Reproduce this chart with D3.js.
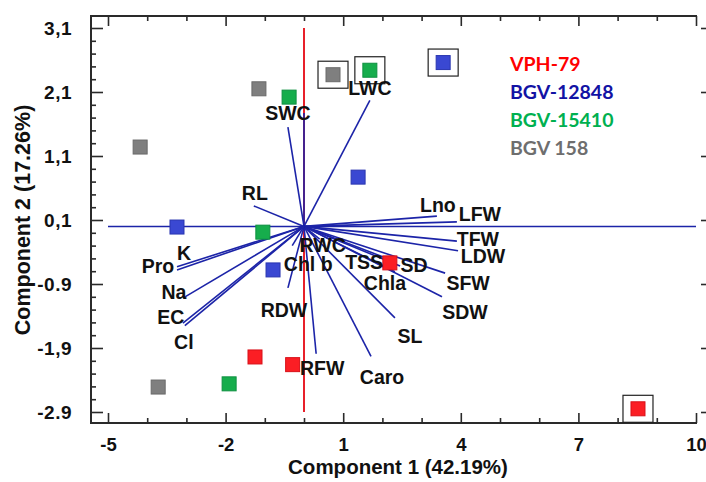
<!DOCTYPE html>
<html>
<head>
<meta charset="utf-8">
<script src="https://cdn.jsdelivr.net/npm/d3@7"></script>
<style>
  html, body { margin: 0; padding: 0; background: #fff; }
  svg { display: block; }
</style>
</head>
<body>
<svg id="chart" width="706" height="482"></svg>
<script>
// ---------- data ----------
const xMajorTicks = [-5, -2, 1, 4, 7, 10];
const xMinorTicks = [-4, -3, -1, 0, 2, 3, 5, 6, 8, 9];
const yMajorTicks = [3.1, 2.1, 1.1, 0.1, -0.9, -1.9, -2.9];
const yTickLabels = ["3,1", "2,1", "1,1", "0,1", "-0.9", "-1,9", "-2.9"];
const xAxisTitle = "Component 1 (42.19%)";
const yAxisTitle = "Component 2 (17.26%)";

const groups = ["VPH-79", "BGV-12848", "BGV-15410", "BGV 158"];
// observation scores [component1, component2]
const scoresVPH79    = [[-1.25, -2.04], [-0.29, -2.16], [8.52, -2.85], [2.19, -0.57]];
const scoresBGV12848 = [[3.55, 2.56], [1.38, 0.77], [-3.24, -0.01], [-0.79, -0.68]];
const scoresBGV15410 = [[1.68, 2.44], [-0.38, 2.02], [-1.05, -0.09], [-1.91, -2.46]];
const scoresBGV158   = [[0.74, 2.37], [-1.15, 2.15], [-4.18, 1.24], [-3.72, -2.51]];
// highlighted (boxed) observations
const boxedPoints = [[0.74, 2.37], [1.68, 2.44], [3.55, 2.56], [8.52, -2.85]];

// variable loading vectors (scaled)
const loadingNames = ["SWC", "", "LWC", "RL", "Lno", "LFW", "TFW", "LDW", "SFW", "SDW",
  "SD", "TSS", "Chla", "SL", "Caro", "RFW", "RDW", "Chl b", "RWC", "K", "Pro", "Na", "EC", "Cl"];
const loadingC1 = [-0.41, 0.00, 1.68, -1.28, 3.39, 3.90, 3.90, 3.93, 3.60, 3.52,
  2.45, 2.07, 2.32, 2.32, 1.71, 0.31, -0.41, -0.30, 0.40, -3.24, -3.24, -3.09, -3.09, -3.04];
const loadingC2 = [1.55, 1.77, 1.97, 0.32, 0.16, 0.07, -0.23, -0.38, -0.73, -1.10,
  -0.62, -0.49, -0.71, -1.43, -2.03, -1.99, -0.96, -0.30, -0.20, -0.68, -0.63, -1.12, -1.51, -1.55];

// ---------- layout / style ----------
const groupColors = ["#fb1e24", "#3a48d2", "#16ad4c", "#7f7f7f"];
const groupStroke = ["#d81018", "#2a36b0", "#0e9040", "#6a6a6a"];
const legendColors = ["#ff0000", "#1212a4", "#00b050", "#6e6e6e"];
const labelOffset = {
  "SWC": [0, -14], "LWC": [0, -12], "RL": [1, -13], "Lno": [1, -11], "LFW": [23, -7.5],
  "TFW": [21, -2], "LDW": [25, 5], "SFW": [23, 10], "SDW": [23, 15], "SD": [14, -1.5],
  "TSS": [-21, 4.5], "Chla": [-10, 11.5], "SL": [15, 18], "Caro": [11, 20.5], "RFW": [6, 14.5],
  "RDW": [-4, 22.5], "Chl b": [16, 18], "RWC": [3, 6], "K": [7, -16.5], "Pro": [-19, -1],
  "Na": [-9, -6.5], "EC": [-12, -6.5], "Cl": [-1, 16.5]
};

const svg = d3.select("#chart");
const frame = { left: 91, right: 697, top: 16, bottom: 423 };
const x = d3.scaleLinear().domain([-5, 10]).range([108, 696]);
const y = d3.scaleLinear().domain([-2.9, 3.1]).range([412, 28]);

const axisFont = "'Liberation Sans', Arial, sans-serif";
const axisColor = "#2a2a2a";

// ---------- axes ----------
function styleAxis(g, size) {
  g.select(".domain").remove();
  g.selectAll(".tick line").attr("stroke", axisColor).attr("stroke-width", 1.6);
  g.selectAll(".tick text").attr("fill", "#111").attr("font-family", axisFont)
    .attr("font-weight", "bold").attr("font-size", size || 19);
}

svg.append("g").attr("transform", `translate(0,${frame.bottom})`)
  .call(d3.axisBottom(x).tickValues(xMajorTicks).tickSize(-10).tickPadding(15)
    .tickFormat(d => String(d)))
  .call(g => styleAxis(g, 18.5));
svg.append("g").attr("transform", `translate(0,${frame.bottom})`)
  .call(d3.axisBottom(x).tickValues(xMinorTicks).tickSize(-5).tickFormat(""))
  .call(styleAxis);
svg.append("g").attr("transform", `translate(0,${frame.top})`)
  .call(d3.axisTop(x).tickValues(xMajorTicks).tickSize(-10).tickFormat(""))
  .call(styleAxis);
svg.append("g").attr("transform", `translate(0,${frame.top})`)
  .call(d3.axisTop(x).tickValues(xMinorTicks).tickSize(-5).tickFormat(""))
  .call(styleAxis);

const yMinorTicks = d3.range(-2.9, 3.1001, 0.2).map(v => +v.toFixed(2))
  .filter(v => !yMajorTicks.some(m => Math.abs(m - v) < 1e-6));

svg.append("g").attr("transform", `translate(${frame.left},0)`)
  .call(d3.axisLeft(y).tickValues(yMajorTicks).tickSize(-12).tickPadding(19)
    .tickFormat((d, i) => yTickLabels[i]))
  .call(styleAxis)
  .call(g => g.selectAll(".tick text").attr("letter-spacing", 0.5));
svg.append("g").attr("transform", `translate(${frame.left},0)`)
  .call(d3.axisLeft(y).tickValues(yMinorTicks).tickSize(-5).tickFormat(""))
  .call(styleAxis);
svg.append("g").attr("transform", `translate(706,0)`)
  .call(d3.axisRight(y).tickValues(yMajorTicks).tickSize(-5).tickFormat(""))
  .call(styleAxis);

// frame lines
svg.append("path")
  .attr("d", `M${frame.right},${frame.top}H${frame.left}V${frame.bottom}H${frame.right}`)
  .attr("fill", "none").attr("stroke", axisColor).attr("stroke-width", 2);

// axis titles
svg.append("text").attr("x", 398).attr("y", 474).attr("text-anchor", "middle")
  .attr("font-family", axisFont).attr("font-weight", "bold").attr("font-size", 20.5)
  .attr("fill", "#111").text(xAxisTitle);
svg.append("text").attr("transform", "translate(30,220) rotate(-90)")
  .attr("text-anchor", "middle")
  .attr("font-family", axisFont).attr("font-weight", "bold").attr("font-size", 21.5)
  .attr("fill", "#111").text(yAxisTitle);

// ---------- reference lines ----------
const vecColor = "#1c24a8";
svg.append("line")
  .attr("x1", x(0)).attr("x2", x(0)).attr("y1", y(3.1)).attr("y2", y(-2.9))
  .attr("stroke", "#e8202a").attr("stroke-width", 2);
svg.append("line")
  .attr("x1", x(-5)).attr("x2", x(10)).attr("y1", y(0)).attr("y2", y(0))
  .attr("stroke", vecColor).attr("stroke-width", 1.5);

// ---------- loading vectors ----------
const loadings = loadingNames.map((n, i) => ({ name: n, c1: loadingC1[i], c2: loadingC2[i] }));
svg.append("g").selectAll("line").data(loadings).join("line")
  .attr("x1", x(0)).attr("y1", y(0))
  .attr("x2", d => x(d.c1)).attr("y2", d => y(d.c2))
  .attr("stroke", vecColor).attr("stroke-width", 1.6);

// ---------- observation points ----------
const allScores = [scoresVPH79, scoresBGV12848, scoresBGV15410, scoresBGV158];
const pts = [];
allScores.forEach((arr, gi) => arr.forEach(p => pts.push({ g: gi, c1: p[0], c2: p[1] })));
const sq = 14;
svg.append("g").selectAll("rect").data(pts).join("rect")
  .attr("x", d => x(d.c1) - sq / 2).attr("y", d => y(d.c2) - sq / 2)
  .attr("width", sq).attr("height", sq)
  .attr("fill", d => groupColors[d.g]).attr("stroke", d => groupStroke[d.g]).attr("stroke-width", 1);

svg.append("g").selectAll("rect").data(boxedPoints).join("rect")
  .attr("x", d => x(d[0]) - 15).attr("y", d => y(d[1]) - 13.5)
  .attr("width", 30).attr("height", 27)
  .attr("fill", "none").attr("stroke", "#222").attr("stroke-width", 1.2);

// ---------- vector labels ----------
svg.append("g").selectAll("text").data(loadings.filter(d => d.name !== "")).join("text")
  .attr("x", d => x(d.c1) + labelOffset[d.name][0])
  .attr("y", d => y(d.c2) + labelOffset[d.name][1])
  .attr("dy", "0.36em").attr("text-anchor", "middle")
  .attr("font-family", axisFont).attr("font-weight", "bold").attr("font-size", 19.5)
  .attr("fill", "#111").text(d => d.name);

// ---------- legend ----------
svg.append("g").selectAll("text").data(groups).join("text")
  .attr("x", 510).attr("y", (d, i) => 71 + i * 28)
  .attr("font-family", "Lato, 'Open Sans', sans-serif").attr("font-weight", "bold")
  .attr("font-size", 19.5).attr("fill", (d, i) => legendColors[i]).text(d => d);
</script>
</body>
</html>
